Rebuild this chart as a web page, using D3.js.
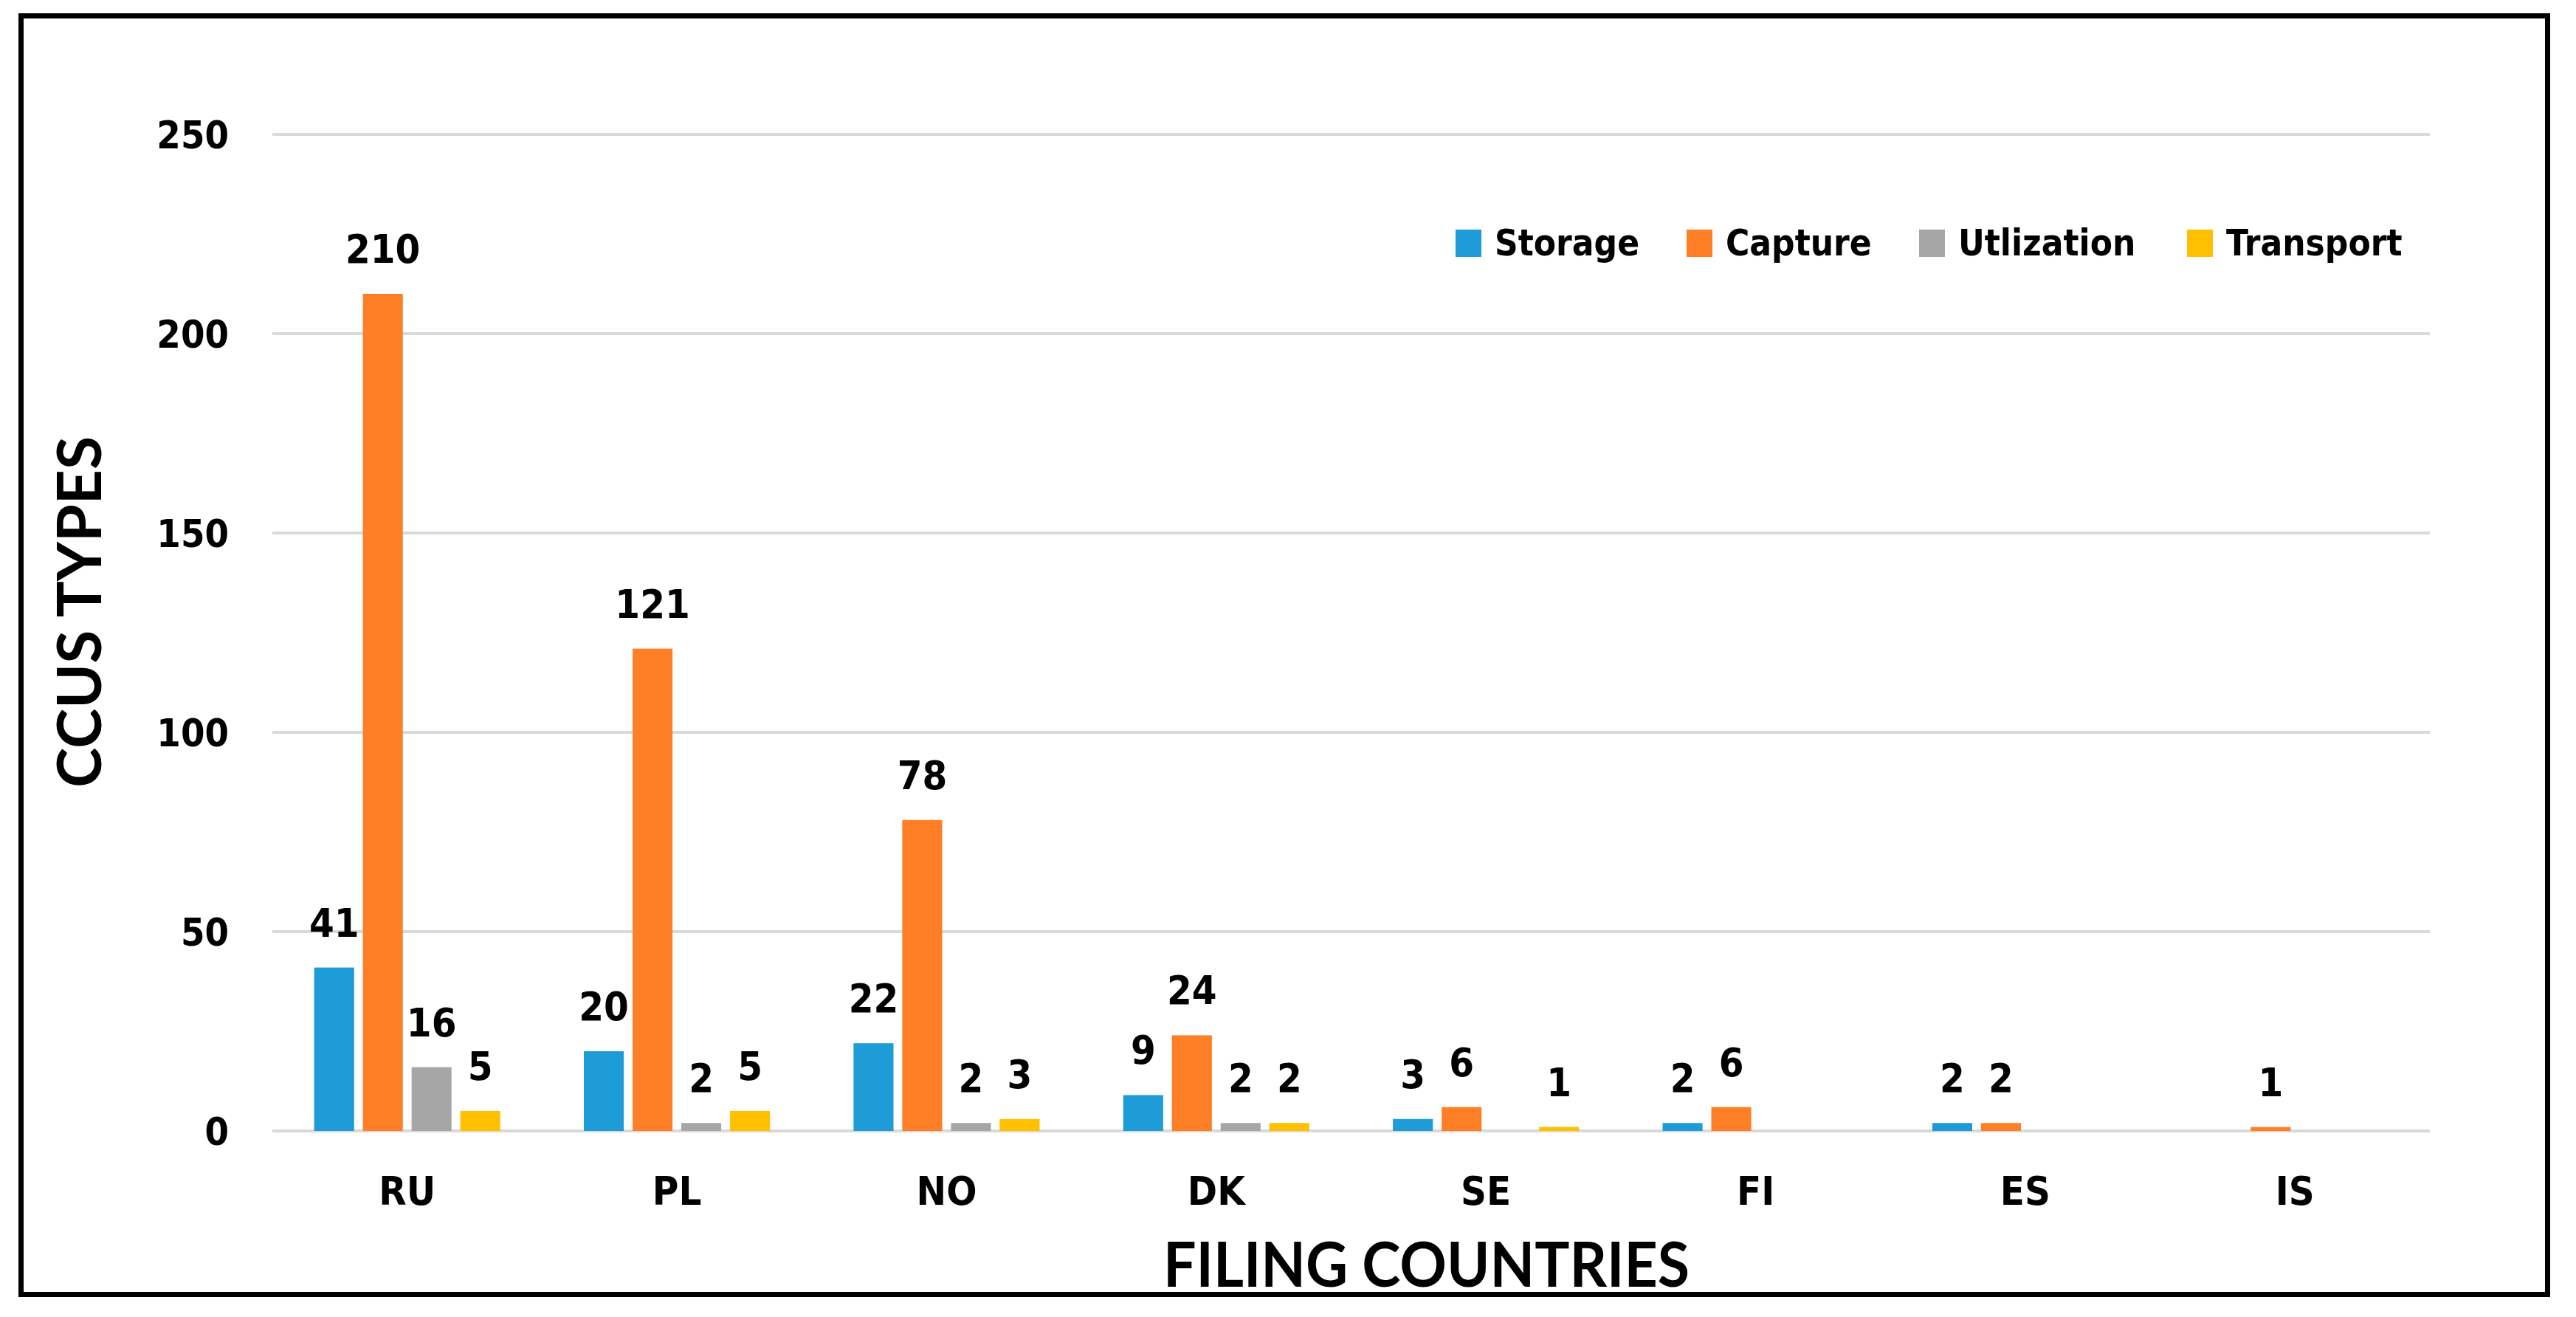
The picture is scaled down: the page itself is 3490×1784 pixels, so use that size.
<!DOCTYPE html>
<html>
<head>
<meta charset="utf-8">
<script src="https://cdn.jsdelivr.net/npm/d3@7"></script>
<style>
  html, body { margin: 0; padding: 0; background: #fff; }
  svg { display: block; }
  .num { font-family: "DejaVu Sans Condensed", "DejaVu Sans", sans-serif; font-stretch: condensed; font-weight: bold; fill: #000; }
  .ttl { font-family: Lato, "Open Sans", sans-serif; font-weight: bold; fill: #000; }
</style>
</head>
<body>
<svg id="chart" width="3490" height="1784"></svg>
<script>
// ---- data ----
const categories = ["RU", "PL", "NO", "DK", "SE", "FI", "ES", "IS"];
const seriesNames = ["Storage", "Capture", "Utlization", "Transport"];
const storage   = [41, 20, 22, 9, 3, 2, 2, 0];
const capture   = [210, 121, 78, 24, 6, 6, 2, 1];
const utlization = [16, 2, 2, 2, 0, 0, 0, 0];
const transport = [5, 5, 3, 2, 1, 0, 0, 0];
const yTicks = [0, 50, 100, 150, 200, 250];
const seriesColors = ["#1E9CD8", "#FF7F27", "#A6A6A6", "#FFC000"];

const seriesValues = [storage, capture, utlization, transport];
const rows = categories.map((c, i) => ({
  cat: c,
  vals: seriesNames.map((s, j) => ({ series: s, idx: j, value: seriesValues[j][i] }))
}));

// ---- layout ----
const svg = d3.select("#chart");
const plot = { left: 369, right: 3292, top: 182, bottom: 1532 };

svg.append("rect").attr("width", 3490).attr("height", 1784).attr("fill", "#fff");

const x0 = d3.scaleBand().domain(categories).range([plot.left, plot.right])
  .paddingInner(0.31).paddingOuter(0.155);
const x1 = d3.scaleBand().domain(seriesNames).range([0, x0.bandwidth()])
  .paddingInner(0.18).paddingOuter(0);
const y = d3.scaleLinear().domain([0, 250]).range([plot.bottom, plot.top]);
const color = d3.scaleOrdinal().domain(seriesNames).range(seriesColors);

// gridlines
svg.append("g").selectAll("line").data(yTicks).join("line")
  .attr("x1", plot.left).attr("x2", plot.right)
  .attr("y1", d => y(d)).attr("y2", d => y(d))
  .attr("stroke", "#D9D9D9").attr("stroke-width", 4);

// y axis labels via d3 axis
const yAxis = d3.axisLeft(y).tickValues(yTicks).tickSize(0).tickPadding(0);
const gy = svg.append("g").attr("transform", `translate(310,0)`).call(yAxis);
gy.select(".domain").remove();
gy.selectAll("text").attr("class", "num").attr("font-size", 52)
  .attr("dy", "0.36em").attr("font-family", null);

// x axis labels via d3 axis
const xAxis = d3.axisBottom(x0).tickSize(0).tickPadding(0);
const gx = svg.append("g").attr("transform", `translate(0,1632)`).call(xAxis);
gx.select(".domain").remove();
gx.selectAll("text").attr("class", "num").attr("font-size", 54)
  .attr("dy", 0).attr("y", 0).attr("font-family", null);

// bars
const groups = svg.append("g").selectAll("g").data(rows).join("g")
  .attr("transform", d => `translate(${x0(d.cat)},0)`);

groups.selectAll("rect").data(d => d.vals.filter(v => v.value > 0)).join("rect")
  .attr("x", d => x1(d.series))
  .attr("width", x1.bandwidth())
  .attr("y", d => y(d.value))
  .attr("height", d => y(0) - y(d.value))
  .attr("fill", d => color(d.series));

groups.selectAll("text").data(d => d.vals.filter(v => v.value > 0)).join("text")
  .attr("class", "num")
  .attr("font-size", 54)
  .attr("text-anchor", "middle")
  .attr("x", d => x1(d.series) + x1.bandwidth() / 2)
  .attr("y", d => y(d.value) - 42)
  .text(d => d.value);

// legend
const legendX = d3.scalePoint().domain(seriesNames).range([1972, 2963]);
const legendStarts = [1972, 2285, 2600, 2963];
const legend = svg.append("g").selectAll("g").data(seriesNames).join("g")
  .attr("transform", (d, j) => `translate(${legendStarts[j]},0)`);
legend.append("rect").attr("x", 0).attr("y", 311).attr("width", 35).attr("height", 37)
  .attr("fill", d => color(d));
legend.append("text").attr("class", "num").attr("font-size", 49)
  .attr("x", 35 + 18).attr("y", 346).text(d => d);

// axis titles
svg.append("text").attr("class", "ttl").attr("font-size", 84)
  .attr("x", 1576).attr("y", 1743)
  .attr("textLength", 713).attr("lengthAdjust", "spacingAndGlyphs")
  .text("FILING COUNTRIES");

svg.append("text").attr("class", "ttl").attr("font-size", 82)
  .attr("transform", "translate(137,1067) rotate(-90)")
  .attr("x", 0).attr("y", 0)
  .attr("textLength", 476).attr("lengthAdjust", "spacingAndGlyphs")
  .text("CCUS TYPES");

// outer border
svg.append("rect").attr("x", 28.5).attr("y", 21.5)
  .attr("width", 3451.5 - 28.5).attr("height", 1753.5 - 21.5)
  .attr("fill", "none").attr("stroke", "#000").attr("stroke-width", 7);
</script>
</body>
</html>
